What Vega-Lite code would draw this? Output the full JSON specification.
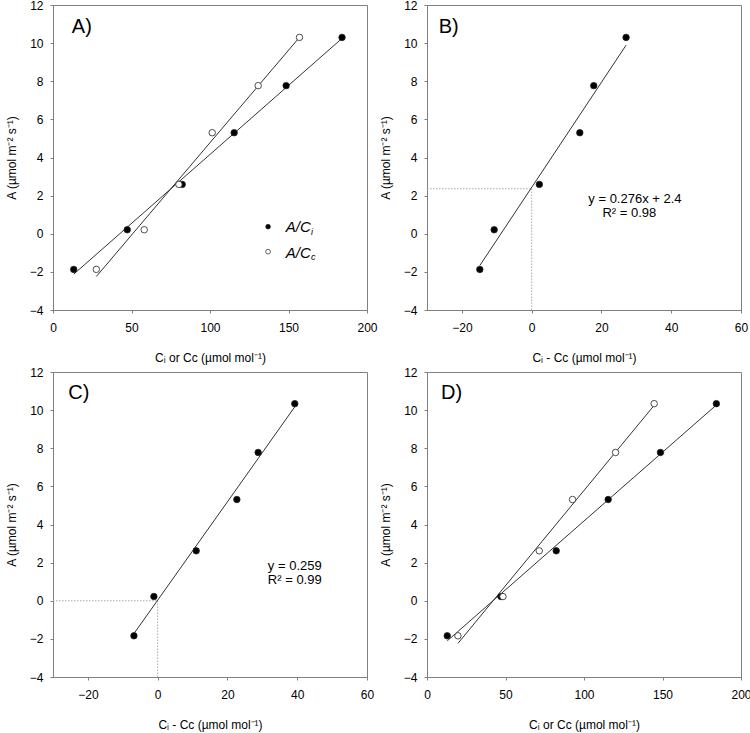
{
  "$schema": "https://vega.github.io/schema/vega-lite/v6.json",
  "padding": {"left": 4, "top": -2, "right": 5, "bottom": 5},
  "background": "white",
  "bounds": "flush",
  "columns": 2,
  "spacing": {"row": 62, "column": 60},
  "datasets": {
    "pts": [
      {"p": "A", "s": "Ci", "x": 13.2, "y": -1.87},
      {"p": "A", "s": "Ci", "x": 47.3, "y": 0.21},
      {"p": "A", "s": "Ci", "x": 82.3, "y": 2.59},
      {"p": "A", "s": "Ci", "x": 115.4, "y": 5.3},
      {"p": "A", "s": "Ci", "x": 148.5, "y": 7.77},
      {"p": "A", "s": "Ci", "x": 184.1, "y": 10.3},
      {"p": "A", "s": "Cc", "x": 27.6, "y": -1.87},
      {"p": "A", "s": "Cc", "x": 58.1, "y": 0.21},
      {"p": "A", "s": "Cc", "x": 80.2, "y": 2.59},
      {"p": "A", "s": "Cc", "x": 101.4, "y": 5.3},
      {"p": "A", "s": "Cc", "x": 130.7, "y": 7.77},
      {"p": "A", "s": "Cc", "x": 157.0, "y": 10.3},
      {"p": "B", "s": "Ci", "x": -14.86, "y": -1.87},
      {"p": "B", "s": "Ci", "x": -10.75, "y": 0.21},
      {"p": "B", "s": "Ci", "x": 2.2, "y": 2.59},
      {"p": "B", "s": "Ci", "x": 13.8, "y": 5.3},
      {"p": "B", "s": "Ci", "x": 17.8, "y": 7.77},
      {"p": "B", "s": "Ci", "x": 27.06, "y": 10.3},
      {"p": "C", "s": "Ci", "x": -6.8, "y": -1.84},
      {"p": "C", "s": "Ci", "x": -1.08, "y": 0.22},
      {"p": "C", "s": "Ci", "x": 11.04, "y": 2.62},
      {"p": "C", "s": "Ci", "x": 22.7, "y": 5.31},
      {"p": "C", "s": "Ci", "x": 28.8, "y": 7.78},
      {"p": "C", "s": "Ci", "x": 39.3, "y": 10.34},
      {"p": "D", "s": "Ci", "x": 12.9, "y": -1.84},
      {"p": "D", "s": "Ci", "x": 47.1, "y": 0.22},
      {"p": "D", "s": "Ci", "x": 82.3, "y": 2.62},
      {"p": "D", "s": "Ci", "x": 115.4, "y": 5.31},
      {"p": "D", "s": "Ci", "x": 148.7, "y": 7.78},
      {"p": "D", "s": "Ci", "x": 184.3, "y": 10.34},
      {"p": "D", "s": "Cc", "x": 19.7, "y": -1.84},
      {"p": "D", "s": "Cc", "x": 48.4, "y": 0.22},
      {"p": "D", "s": "Cc", "x": 71.5, "y": 2.62},
      {"p": "D", "s": "Cc", "x": 92.7, "y": 5.31},
      {"p": "D", "s": "Cc", "x": 120.1, "y": 7.78},
      {"p": "D", "s": "Cc", "x": 144.7, "y": 10.34}
    ],
    "legpts": [
      {"p": "A", "s": "Ci", "x": 137, "y": 0.37},
      {"p": "A", "s": "Cc", "x": 137, "y": -0.94}
    ],
    "guides": [
      {"p": "B", "x": -30, "x2": 0, "y": 2.36, "y2": 2.36},
      {"p": "B", "x": 0, "x2": 0, "y": -4, "y2": 2.36},
      {"p": "C", "x": -30, "x2": 0, "y": 0, "y2": 0},
      {"p": "C", "x": 0, "x2": 0, "y": -4, "y2": 0}
    ],
    "texts": [
      {"p": "A", "k": "lab", "x": 12, "y": 10.82, "t": "A)"},
      {"p": "B", "k": "lab", "x": -26.66, "y": 10.82, "t": "B)"},
      {"p": "C", "k": "lab", "x": -25.6, "y": 10.92, "t": "C)"},
      {"p": "D", "k": "lab", "x": 8.9, "y": 10.92, "t": "D)"},
      {"p": "B", "k": "eq", "x": 29.6, "y": 1.81, "t": "y = 0.276x + 2.4"},
      {"p": "B", "k": "eq", "x": 28.0, "y": 1.07, "t": "R² = 0.98"},
      {"p": "C", "k": "eq", "x": 39.3, "y": 1.81, "t": "y = 0.259"},
      {"p": "C", "k": "eq", "x": 39.3, "y": 1.08, "t": "R² = 0.99"},
      {"p": "A", "k": "leg", "x": 148.3, "y": 0.33, "t": "A/C"},
      {"p": "A", "k": "leg", "x": 148.3, "y": -1.0, "t": "A/C"},
      {"p": "A", "k": "sub", "x": 164.3, "y": 0.08, "t": "i"},
      {"p": "A", "k": "sub", "x": 164.3, "y": -1.22, "t": "c"}
    ]
  },
  "concat": [
    {
      "width": 314, "height": 305,
      "layer": [
        {"data": {"name": "pts"}, "transform": [{"filter": "datum.p === 'A'"}, {"regression": "y", "on": "x", "groupby": ["s"]}],
         "mark": {"type": "line", "color": "#333333", "strokeWidth": 1},
         "encoding": {
           "x": {"field": "x", "type": "quantitative", "scale": {"domain": [0, 200], "nice": false, "zero": false}, "axis": {"values": [0, 50, 100, 150, 200], "tickCount": 20, "title": "Cᵢ or Cc (µmol mol⁻¹)"}},
           "y": {"field": "y", "type": "quantitative", "scale": {"domain": [-4, 12], "nice": false, "zero": false}, "axis": {"values": [-4, -2, 0, 2, 4, 6, 8, 10, 12], "tickCount": 20, "title": "A (µmol m⁻² s⁻¹)"}},
           "detail": {"field": "s"}}},
        {"data": {"name": "pts"}, "transform": [{"filter": "datum.p === 'A'"}],
         "mark": {"type": "circle", "size": 42, "stroke": "#222222", "strokeWidth": 0.8, "opacity": 1},
         "encoding": {"x": {"field": "x", "type": "quantitative"}, "y": {"field": "y", "type": "quantitative"},
           "fill": {"field": "s", "type": "nominal", "scale": {"domain": ["Ci", "Cc"], "range": ["#000000", "#ffffff"]}, "legend": null}}},
        {"data": {"name": "legpts"},
         "mark": {"type": "circle", "size": 22, "stroke": "#222222", "strokeWidth": 0.7, "opacity": 1},
         "encoding": {"x": {"field": "x", "type": "quantitative"}, "y": {"field": "y", "type": "quantitative"},
           "fill": {"field": "s", "type": "nominal", "scale": {"domain": ["Ci", "Cc"], "range": ["#000000", "#ffffff"]}, "legend": null}}},
        {"data": {"name": "texts"}, "transform": [{"filter": "datum.p === 'A' && datum.k === 'lab'"}],
         "mark": {"type": "text", "fontSize": 20, "align": "left", "baseline": "middle", "color": "#000"},
         "encoding": {"x": {"field": "x", "type": "quantitative"}, "y": {"field": "y", "type": "quantitative"}, "text": {"field": "t"}}},
        {"data": {"name": "texts"}, "transform": [{"filter": "datum.p === 'A' && datum.k === 'leg'"}],
         "mark": {"type": "text", "fontSize": 15, "fontStyle": "italic", "align": "left", "baseline": "middle", "color": "#000"},
         "encoding": {"x": {"field": "x", "type": "quantitative"}, "y": {"field": "y", "type": "quantitative"}, "text": {"field": "t"}}},
        {"data": {"name": "texts"}, "transform": [{"filter": "datum.p === 'A' && datum.k === 'sub'"}],
         "mark": {"type": "text", "fontSize": 9, "fontStyle": "italic", "align": "left", "baseline": "middle", "color": "#000"},
         "encoding": {"x": {"field": "x", "type": "quantitative"}, "y": {"field": "y", "type": "quantitative"}, "text": {"field": "t"}}}
      ]
    },
    {
      "width": 314, "height": 305,
      "layer": [
        {"data": {"name": "guides"}, "transform": [{"filter": "datum.p === 'B'"}],
         "mark": {"type": "rule", "color": "#aaaaaa", "strokeWidth": 1, "strokeDash": [1.5, 1.5]},
         "encoding": {
           "x": {"field": "x", "type": "quantitative", "scale": {"domain": [-30, 60], "nice": false, "zero": false}, "axis": {"values": [-20, 0, 20, 40, 60], "tickCount": 20, "title": "Cᵢ - Cc (µmol mol⁻¹)"}},
           "x2": {"field": "x2"},
           "y": {"field": "y", "type": "quantitative", "scale": {"domain": [-4, 12], "nice": false, "zero": false}, "axis": {"values": [-4, -2, 0, 2, 4, 6, 8, 10, 12], "tickCount": 20, "title": "A (µmol m⁻² s⁻¹)"}},
           "y2": {"field": "y2"}}},
        {"data": {"name": "pts"}, "transform": [{"filter": "datum.p === 'B'"}, {"regression": "y", "on": "x"}],
         "mark": {"type": "line", "color": "#333333", "strokeWidth": 1},
         "encoding": {"x": {"field": "x", "type": "quantitative"}, "y": {"field": "y", "type": "quantitative"}}},
        {"data": {"name": "pts"}, "transform": [{"filter": "datum.p === 'B'"}],
         "mark": {"type": "circle", "size": 42, "stroke": "#222222", "strokeWidth": 0.8, "opacity": 1, "fill": "#000000"},
         "encoding": {"x": {"field": "x", "type": "quantitative"}, "y": {"field": "y", "type": "quantitative"}}},
        {"data": {"name": "texts"}, "transform": [{"filter": "datum.p === 'B' && datum.k === 'lab'"}],
         "mark": {"type": "text", "fontSize": 20, "align": "left", "baseline": "middle", "color": "#000"},
         "encoding": {"x": {"field": "x", "type": "quantitative"}, "y": {"field": "y", "type": "quantitative"}, "text": {"field": "t"}}},
        {"data": {"name": "texts"}, "transform": [{"filter": "datum.p === 'B' && datum.k === 'eq'"}],
         "mark": {"type": "text", "fontSize": 13, "align": "center", "baseline": "middle", "color": "#000"},
         "encoding": {"x": {"field": "x", "type": "quantitative"}, "y": {"field": "y", "type": "quantitative"}, "text": {"field": "t"}}}
      ]
    },
    {
      "width": 314, "height": 305,
      "layer": [
        {"data": {"name": "guides"}, "transform": [{"filter": "datum.p === 'C'"}],
         "mark": {"type": "rule", "color": "#aaaaaa", "strokeWidth": 1, "strokeDash": [1.5, 1.5]},
         "encoding": {
           "x": {"field": "x", "type": "quantitative", "scale": {"domain": [-30, 60], "nice": false, "zero": false}, "axis": {"values": [-20, 0, 20, 40, 60], "tickCount": 20, "title": "Cᵢ - Cc (µmol mol⁻¹)"}},
           "x2": {"field": "x2"},
           "y": {"field": "y", "type": "quantitative", "scale": {"domain": [-4, 12], "nice": false, "zero": false}, "axis": {"values": [-4, -2, 0, 2, 4, 6, 8, 10, 12], "tickCount": 20, "title": "A (µmol m⁻² s⁻¹)"}},
           "y2": {"field": "y2"}}},
        {"data": {"name": "pts"}, "transform": [{"filter": "datum.p === 'C'"}, {"regression": "y", "on": "x"}],
         "mark": {"type": "line", "color": "#333333", "strokeWidth": 1},
         "encoding": {"x": {"field": "x", "type": "quantitative"}, "y": {"field": "y", "type": "quantitative"}}},
        {"data": {"name": "pts"}, "transform": [{"filter": "datum.p === 'C'"}],
         "mark": {"type": "circle", "size": 42, "stroke": "#222222", "strokeWidth": 0.8, "opacity": 1, "fill": "#000000"},
         "encoding": {"x": {"field": "x", "type": "quantitative"}, "y": {"field": "y", "type": "quantitative"}}},
        {"data": {"name": "texts"}, "transform": [{"filter": "datum.p === 'C' && datum.k === 'lab'"}],
         "mark": {"type": "text", "fontSize": 20, "align": "left", "baseline": "middle", "color": "#000"},
         "encoding": {"x": {"field": "x", "type": "quantitative"}, "y": {"field": "y", "type": "quantitative"}, "text": {"field": "t"}}},
        {"data": {"name": "texts"}, "transform": [{"filter": "datum.p === 'C' && datum.k === 'eq'"}],
         "mark": {"type": "text", "fontSize": 13, "align": "center", "baseline": "middle", "color": "#000"},
         "encoding": {"x": {"field": "x", "type": "quantitative"}, "y": {"field": "y", "type": "quantitative"}, "text": {"field": "t"}}}
      ]
    },
    {
      "width": 314, "height": 305,
      "layer": [
        {"data": {"name": "pts"}, "transform": [{"filter": "datum.p === 'D'"}, {"regression": "y", "on": "x", "groupby": ["s"]}],
         "mark": {"type": "line", "color": "#333333", "strokeWidth": 1},
         "encoding": {
           "x": {"field": "x", "type": "quantitative", "scale": {"domain": [0, 200], "nice": false, "zero": false}, "axis": {"values": [0, 50, 100, 150, 200], "tickCount": 20, "title": "Cᵢ or Cc (µmol mol⁻¹)"}},
           "y": {"field": "y", "type": "quantitative", "scale": {"domain": [-4, 12], "nice": false, "zero": false}, "axis": {"values": [-4, -2, 0, 2, 4, 6, 8, 10, 12], "tickCount": 20, "title": "A (µmol m⁻² s⁻¹)"}},
           "detail": {"field": "s"}}},
        {"data": {"name": "pts"}, "transform": [{"filter": "datum.p === 'D'"}],
         "mark": {"type": "circle", "size": 42, "stroke": "#222222", "strokeWidth": 0.8, "opacity": 1},
         "encoding": {"x": {"field": "x", "type": "quantitative"}, "y": {"field": "y", "type": "quantitative"},
           "fill": {"field": "s", "type": "nominal", "scale": {"domain": ["Ci", "Cc"], "range": ["#000000", "#ffffff"]}, "legend": null}}},
        {"data": {"name": "texts"}, "transform": [{"filter": "datum.p === 'D' && datum.k === 'lab'"}],
         "mark": {"type": "text", "fontSize": 20, "align": "left", "baseline": "middle", "color": "#000"},
         "encoding": {"x": {"field": "x", "type": "quantitative"}, "y": {"field": "y", "type": "quantitative"}, "text": {"field": "t"}}}
      ]
    }
  ],
  "config": {
    "font": "Liberation Sans",
    "view": {"stroke": "#808080", "strokeWidth": 1},
    "axis": {"grid": false, "domainColor": "#808080", "tickColor": "#808080", "tickSize": 3, "labelFont": "Liberation Sans", "labelFontSize": 12, "labelColor": "#000000", "labelFlush": false, "labelOverlap": false, "titleFont": "Liberation Sans", "titleFontSize": 12, "titleFontWeight": "normal", "titleColor": "#000000"},
    "axisY": {"labelPadding": 7, "titlePadding": 11},
    "axisX": {"labelPadding": 9, "titlePadding": 19}
  }
}
